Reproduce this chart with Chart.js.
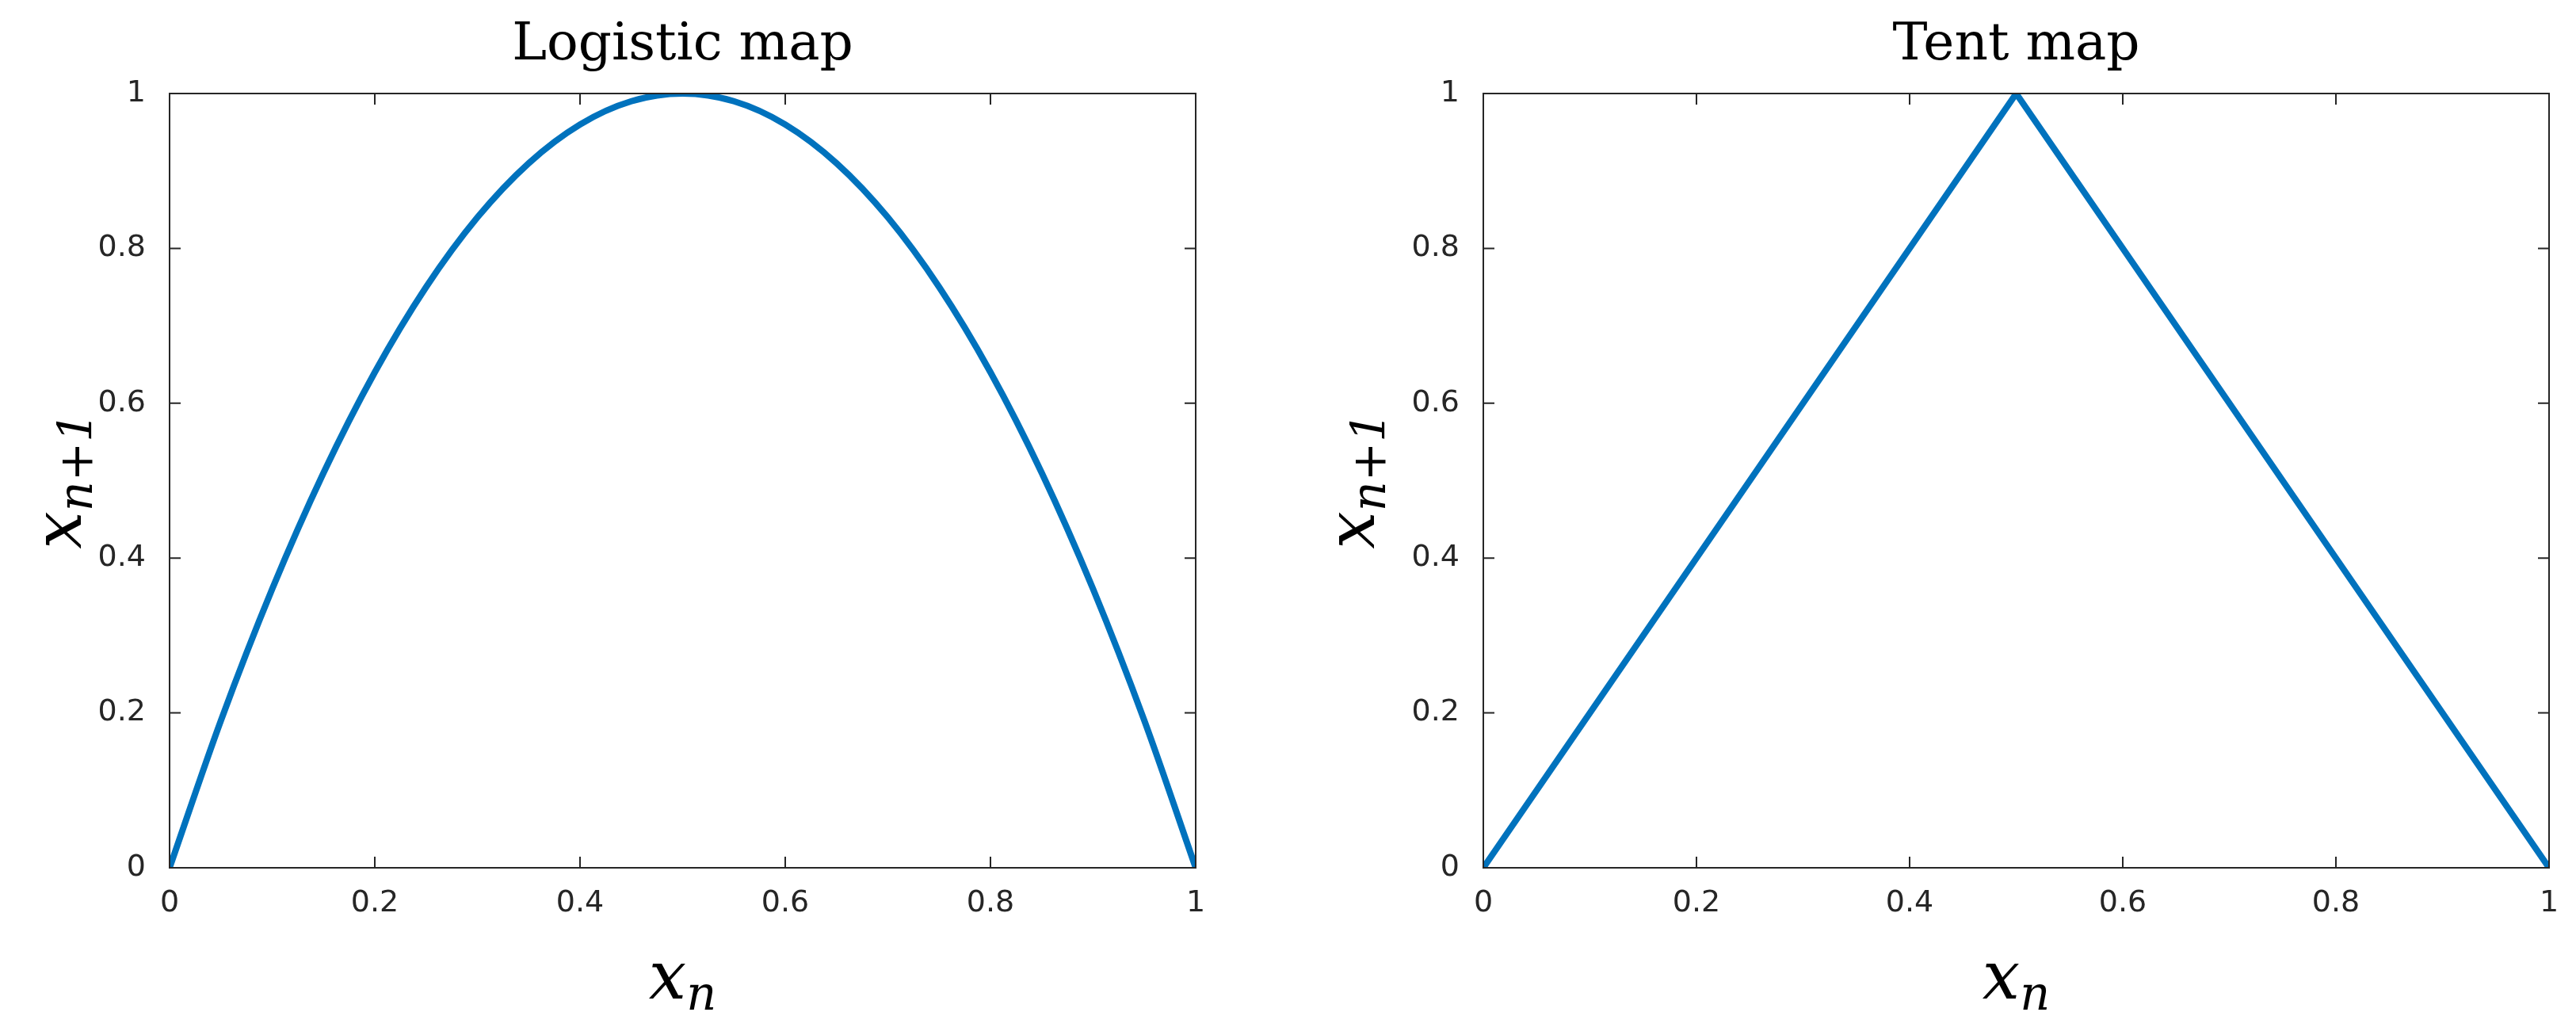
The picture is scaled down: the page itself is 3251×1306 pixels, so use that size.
<!DOCTYPE html>
<html><head><meta charset="utf-8">
<script src="https://cdn.jsdelivr.net/npm/chart.js@4.4.1/dist/chart.umd.min.js"></script>
<style>
body{margin:0;background:#fff;width:3251px;height:1306px;overflow:hidden}
.box{position:absolute;top:0;height:1306px}
</style></head><body>
<div class="box" style="left:0;width:1600px"><canvas id="logistic"></canvas></div>
<div class="box" style="left:1600px;width:1651px"><canvas id="tent"></canvas></div>
<script>
// values
var logisticX = [0,0.05,0.1,0.15,0.2,0.25,0.3,0.35,0.4,0.45,0.5,0.55,0.6,0.65,0.7,0.75,0.8,0.85,0.9,0.95,1],
    logisticY = [0,0.19,0.36,0.51,0.64,0.75,0.84,0.91,0.96,0.99,1,0.99,0.96,0.91,0.84,0.75,0.64,0.51,0.36,0.19,0],
    tentX = [0,0.5,1],
    tentY = [0,1,0],
    tickValues = [0,0.2,0.4,0.6,0.8,1],
    tickLabels = ['0','0.2','0.4','0.6','0.8','1'];

var ink = '#262626',
    blue = '#0072BD',
    tickFont = {family: 'DejaVu Sans', size: 38};

function points(xs, ys) {
    var out = [];
    for (var i = 0; i < xs.length; i++) out.push({x: xs[i], y: ys[i]});
    return out;
}

function label(v) {
    var i = tickValues.indexOf(v);
    return i < 0 ? '' : tickLabels[i];
}

function sub(ctx, main, s, x, y, size) {
    ctx.font = 'italic ' + size + 'px "DejaVu Serif"';
    var w1 = ctx.measureText(main).width;
    ctx.font = 'italic ' + Math.round(size * 0.7) + 'px "DejaVu Serif"';
    var w2 = ctx.measureText(s).width;
    var x0 = x - (w1 + w2) / 2;
    ctx.textAlign = 'left';
    ctx.font = 'italic ' + size + 'px "DejaVu Serif"';
    ctx.fillText(main, x0, y);
    ctx.font = 'italic ' + Math.round(size * 0.7) + 'px "DejaVu Serif"';
    ctx.fillText(s, x0 + w1, y + size * 0.25);
}

function makeChart(id, xs, ys, title, leftW, rightPad, ylabX, tension) {
    var frame = {
        id: 'frame',
        afterDraw: function(c) {
            var a = c.chartArea, ctx = c.ctx, sx = c.scales.x, sy = c.scales.y;
            ctx.save();
            ctx.strokeStyle = ink;
            ctx.lineWidth = 2;
            ctx.strokeRect(a.left, a.top, a.right - a.left, a.bottom - a.top);
            tickValues.forEach(function(v) {
                var px = sx.getPixelForValue(v), py = sy.getPixelForValue(v);
                ctx.beginPath();
                ctx.moveTo(px, a.bottom); ctx.lineTo(px, a.bottom - 14);
                ctx.moveTo(px, a.top); ctx.lineTo(px, a.top + 14);
                ctx.moveTo(a.left, py); ctx.lineTo(a.left + 14, py);
                ctx.moveTo(a.right, py); ctx.lineTo(a.right - 14, py);
                ctx.stroke();
            });
            ctx.fillStyle = '#000';
            ctx.textBaseline = 'middle';
            ctx.textAlign = 'center';
            ctx.font = '66px "DejaVu Serif"';
            ctx.fillText(title, (a.left + a.right) / 2, 58);
            sub(ctx, 'x', 'n', (a.left + a.right) / 2, 1238, 84);
            ctx.translate(ylabX, (a.top + a.bottom) / 2);
            ctx.rotate(-Math.PI / 2);
            sub(ctx, 'x', 'n+1', 0, 0, 84);
            ctx.restore();
        }
    };
    return new Chart(document.getElementById(id).getContext('2d'), {
        type: 'line',
        data: {datasets: [{
            data: points(xs, ys),
            borderColor: blue,
            borderWidth: 8,
            pointRadius: 0,
            tension: tension,
            cubicInterpolationMode: tension ? 'monotone' : 'default'
        }]},
        options: {
            responsive: true,
            maintainAspectRatio: false,
            animation: false,
            layout: {padding: {top: 118, right: rightPad}},
            plugins: {legend: {display: false}, tooltip: {enabled: false}},
            scales: {
                x: {
                    type: 'linear', min: 0, max: 1,
                    grid: {display: false}, border: {display: false},
                    afterFit: function(s) { s.height = 211; },
                    afterBuildTicks: function(s) { s.ticks = tickValues.map(function(v) { return {value: v}; }); },
                    ticks: {color: ink, font: tickFont, padding: 14, maxRotation: 0, callback: label}
                },
                y: {
                    min: 0, max: 1,
                    grid: {display: false}, border: {display: false},
                    afterFit: function(s) { s.width = leftW; },
                    afterBuildTicks: function(s) { s.ticks = tickValues.map(function(v) { return {value: v}; }); },
                    ticks: {color: ink, font: tickFont, padding: 22, callback: label}
                }
            }
        },
        plugins: [frame]
    });
}

makeChart('logistic', logisticX, logisticY, 'Logistic map', 214, 91, 80, 0.4);
makeChart('tent', tentX, tentY, 'Tent map', 272, 34, 112, 0);
</script>
</body></html>
